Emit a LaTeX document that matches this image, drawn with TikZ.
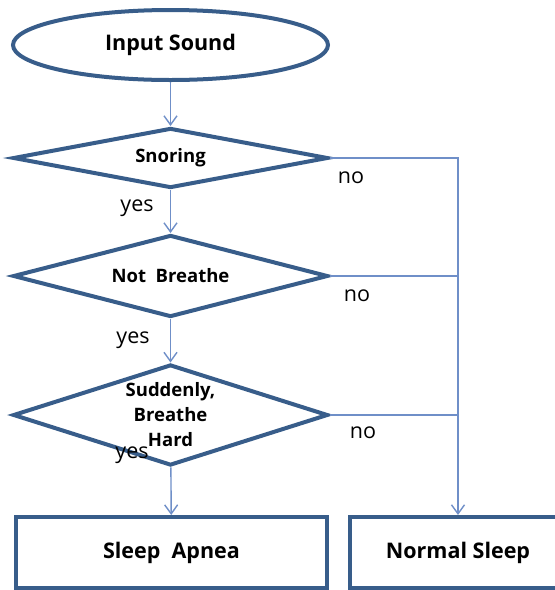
\documentclass[tikz,border=0pt]{standalone}
\usepackage{fontspec}
\setmainfont{Open Sans}
\usepackage{xcolor}
\usetikzlibrary{shapes.geometric,arrows.meta}
\definecolor{edgeblue}{HTML}{385D8A}
\definecolor{flowblue}{HTML}{6F8FC8}

\begin{document}
\begin{tikzpicture}[x=1pt,y=-1pt,
    start/.style={shape=ellipse, draw=edgeblue, line width=4pt, inner sep=0pt,
        minimum width=315pt, minimum height=70pt, font=\fontsize{21.5}{24}\selectfont\bfseries},
    decide/.style={shape=diamond, draw=edgeblue, line width=4pt, inner sep=0pt, aspect=3,
        minimum width=315pt, font=\fontsize{18.5}{25}\selectfont\bfseries, align=center},
    result/.style={shape=rectangle, draw=edgeblue, line width=4pt, inner sep=0pt,
        minimum height=71pt, font=\fontsize{21.5}{24}\selectfont\bfseries},
    flow/.style={draw=flowblue, line width=1.4pt, -{Straight Barb[length=9pt,width=13pt]}},
    link/.style={draw=flowblue, line width=1.4pt},
    lbl/.style={font=\fontsize{21.5}{23}\selectfont, inner sep=0pt}]
    \clip (0,0) rectangle (555,590);

    \node[start] (input) at (170.5,45) {Input Sound};
    \node[decide, minimum height=60pt] (snoring) at (170.5,158) {Snoring};
    \node[decide, minimum height=82pt] (nobreath) at (170.5,276) {Not~ Breathe};
    \node[decide, minimum height=101pt] (sudden) at (170.5,415) {Suddenly,\\Breathe\\Hard};
    \node[result, minimum width=311pt] (apnea) at (171.5,552.5) {Sleep~ Apnea};
    \node[result, minimum width=216pt] (normal) at (458,552.5) {Normal Sleep};

    % yes branch
    \draw[flow] (input) -- (snoring);
    \draw[flow] (snoring) -- (nobreath);
    \draw[flow] (nobreath) -- (sudden);
    \draw[flow] (sudden) -- (apnea);

    % no branch
    \draw[flow] (snoring.east) -| (normal.north);
    \draw[link] (nobreath.east) -- (nobreath.east -| normal.north);
    \draw[link] (sudden.east) -- (sudden.east -| normal.north);

    \node[lbl] (yes1) at (137,208) {yes};
    \node[lbl] (yes2) at (133,340) {yes};
    \node[lbl] (yes3) at (132,455) {yes};
    \node[lbl] (no1) at (351,178) {no};
    \node[lbl] (no2) at (357,296) {no};
    \node[lbl] (no3) at (363,433) {no};
  \end{tikzpicture}
\end{document}
